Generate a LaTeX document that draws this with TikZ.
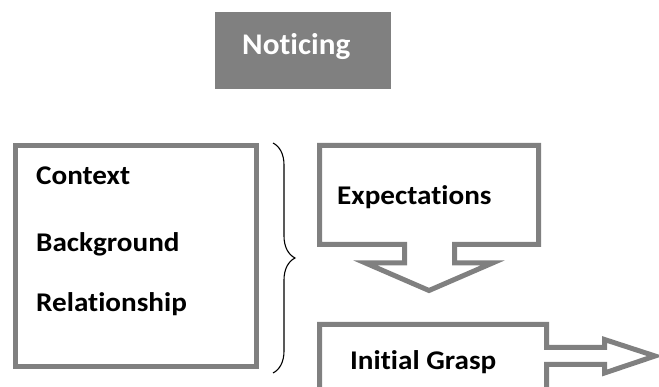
\documentclass[tikz,border=0pt]{standalone}
\usepackage{fontspec}
\setmainfont{Carlito}[Ligatures=NoCommon, RawFeature={-liga;-calt;-clig}]
\usetikzlibrary{decorations.pathreplacing}
\definecolor{boxgray}{HTML}{808080}
\tikzset{
  outline/.style={draw=boxgray, line width=5pt, line join=miter},
  lbl/.style={anchor=base west, inner sep=0pt, font=\fontsize{27}{27}\selectfont\bfseries},
}
\newcommand{\wide}[1]{\scalebox{1.08}[1]{#1}}
\begin{document}
\begin{tikzpicture}[x=1pt,y=-1pt]
\useasboundingbox (0,0) rectangle (659,387);
\clip (0,0) rectangle (659,387);
% Noticing
\fill[boxgray] (215,12) rectangle (391,89);
\node[lbl, text=white, font=\fontsize{30}{30}\selectfont\bfseries] (noticing) at (242,55) {\scalebox{1.04}[1]{Noticing}};
% left box
\draw[outline] (15.5,145.5) rectangle (256.5,366.5);
\node[lbl] (context) at (36,185) {\wide{Context}};
\node[lbl] (background) at (36,252) {\wide{Background}};
\node[lbl] (relationship) at (36,312) {\wide{Relationship}};
% brace
\draw[line width=1.1pt, decorate, decoration={brace, amplitude=22pt}] (273,143) -- (273,373);
% Expectations callout
\draw[outline] (319.5,145.5) -- (538.5,145.5) -- (538.5,244.5) -- (454.5,244.5) -- (454.5,263) -- (492.5,263)
  -- (429,290.5) -- (365.5,263) -- (404.5,263) -- (404.5,244.5) -- (319.5,244.5) -- cycle;
\node[lbl] (expect) at (337,205) {\wide{Expectations}};
% Initial Grasp callout
\draw[outline] (319.5,395) -- (319.5,324.5) -- (546.5,324.5) -- (546.5,347.5) -- (604.5,347.5) -- (604.5,339.5)
  -- (655,356) -- (604.5,373) -- (604.5,364.5) -- (546.5,364.5) -- (546.5,395);
\node[lbl] (grasp) at (350,370) {\wide{Initial Grasp}};
\end{tikzpicture}
\end{document}
